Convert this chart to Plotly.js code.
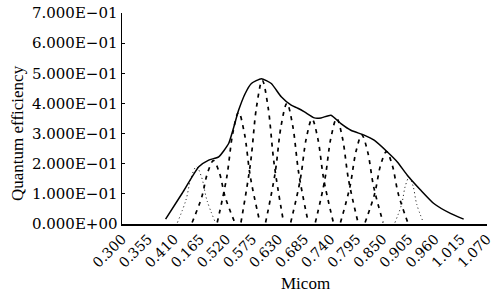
<!DOCTYPE html>
<html><head><meta charset="utf-8">
<script src="https://cdn.plot.ly/plotly-3.0.1.min.js"></script>
<style>html,body{margin:0;padding:0;background:#fff}#chart{width:495px;height:297px}</style>
</head><body><div id="chart"></div>
<script>
// tick labels
var xTickVals = [0.300,0.355,0.410,0.465,0.520,0.575,0.630,0.685,0.740,0.795,0.850,0.905,0.960,1.015,1.070];
var xTickText = ["0.300","0.355","0.410","0.165","0.520","0.575","0.630","0.685","0.740","0.795","0.850","0.905","0.960","1.015","1.070"];
var yTickVals = [0,0.1,0.2,0.3,0.4,0.5,0.6,0.7];
var yTickText = ["0.000E+00","1.000E\u221201","2.000E\u221201","3.000E\u221201","4.000E\u221201","5.000E\u221201","6.000E\u221201","7.000E\u221201"];

// envelope (measured)
var envX = [0.392,0.427,0.462,0.483,0.504,0.525,0.546,0.560,0.573,0.594,0.615,0.636,0.657,0.671,0.685,0.706,0.720,0.741,0.762,0.783,0.811,0.832,0.860,0.881,0.902,0.930,0.958,0.993,1.021];
var envY = [0.016,0.102,0.190,0.212,0.223,0.267,0.377,0.433,0.466,0.482,0.466,0.422,0.394,0.384,0.372,0.352,0.352,0.361,0.333,0.311,0.295,0.278,0.239,0.206,0.162,0.113,0.068,0.035,0.016];

// component bands (estimated)
var b1x = [0.417,0.435,0.446,0.457,0.468,0.479,0.497];
var b1y = [0.005,0.080,0.155,0.190,0.155,0.080,0.005];
var b2x = [0.448,0.468,0.481,0.493,0.505,0.518,0.538];
var b2y = [0.005,0.088,0.172,0.210,0.172,0.088,0.005];
var b3x = [0.501,0.521,0.534,0.546,0.558,0.571,0.591];
var b3y = [0.005,0.155,0.303,0.370,0.303,0.155,0.005];
var b4x = [0.551,0.571,0.584,0.596,0.608,0.621,0.641];
var b4y = [0.005,0.200,0.390,0.476,0.390,0.200,0.005];
var b5x = [0.603,0.623,0.636,0.648,0.660,0.673,0.693];
var b5y = [0.005,0.168,0.328,0.400,0.328,0.168,0.005];
var b6x = [0.656,0.676,0.689,0.701,0.713,0.726,0.746];
var b6y = [0.005,0.146,0.285,0.348,0.285,0.146,0.005];
var b7x = [0.708,0.728,0.741,0.753,0.765,0.778,0.798];
var b7y = [0.005,0.147,0.287,0.350,0.287,0.147,0.005];
var b8x = [0.761,0.781,0.794,0.806,0.818,0.831,0.851];
var b8y = [0.005,0.124,0.242,0.295,0.242,0.124,0.005];
var b9x = [0.813,0.833,0.846,0.858,0.870,0.883,0.903];
var b9y = [0.005,0.100,0.197,0.240,0.197,0.100,0.005];
var b10x = [0.876,0.890,0.898,0.906,0.914,0.922,0.936];
var b10y = [0.005,0.065,0.127,0.155,0.127,0.065,0.005];

var dashed = [[b2x,b2y],[b3x,b3y],[b4x,b4y],[b5x,b5y],[b6x,b6y],[b7x,b7y],[b8x,b8y],[b9x,b9y]];
var dotted = [[b1x,b1y],[b10x,b10y]];

var traces = [];
dashed.forEach(function(b){
  traces.push({x:b[0],y:b[1],mode:'lines',line:{color:'#000',width:1.7,dash:'4px,5px',shape:'spline',smoothing:1},hoverinfo:'skip'});
});
dotted.forEach(function(b){
  traces.push({x:b[0],y:b[1],mode:'lines',line:{color:'#000',width:1,dash:'1px,3px',shape:'spline',smoothing:1},hoverinfo:'skip'});
});
traces.push({x:envX,y:envY,mode:'lines',line:{color:'#000',width:1.5,shape:'spline',smoothing:0.5},hoverinfo:'skip'});

var serif = "'Liberation Serif', 'Times New Roman', serif";
var tickSerif = "'DejaVu Serif', serif";
var L = 122, R = 487;
var layout = {
  width:495,height:297,
  margin:{l:L,r:495-R,t:13,b:73},
  showlegend:false,
  paper_bgcolor:'#fff',plot_bgcolor:'#fff',
  xaxis:{range:[0.3,1.0702],tickvals:xTickVals,ticktext:xTickText,tickangle:-45,
    ticklabeloverflow:'allow',
    tickfont:{family:tickSerif,size:14,color:'#000'},showgrid:false,zeroline:false,
    showline:true,linecolor:'#000',linewidth:1.5,ticks:'',fixedrange:true},
  yaxis:{range:[0,0.7],tickvals:yTickVals,ticktext:yTickText,
    tickfont:{family:tickSerif,size:15,color:'#000'},showgrid:false,zeroline:false,
    showline:true,linecolor:'#000',linewidth:1.5,ticks:'inside',ticklen:3,tickcolor:'#000',tickwidth:1,fixedrange:true},
  annotations:[
    {text:'Quantum efficiency',xref:'paper',yref:'paper',x:(17-L)/(R-L),y:(224-133)/211,
     xanchor:'center',yanchor:'middle',textangle:-90,showarrow:false,font:{family:serif,size:17,color:'#000'}},
    {text:'Micom',xref:'paper',yref:'paper',x:(305-L)/(R-L),y:-(283-224)/211,
     xanchor:'center',yanchor:'middle',showarrow:false,font:{family:serif,size:17,color:'#000'}}
  ]
};
Plotly.newPlot('chart',traces,layout,{staticPlot:true,displayModeBar:false});
</script></body></html>
